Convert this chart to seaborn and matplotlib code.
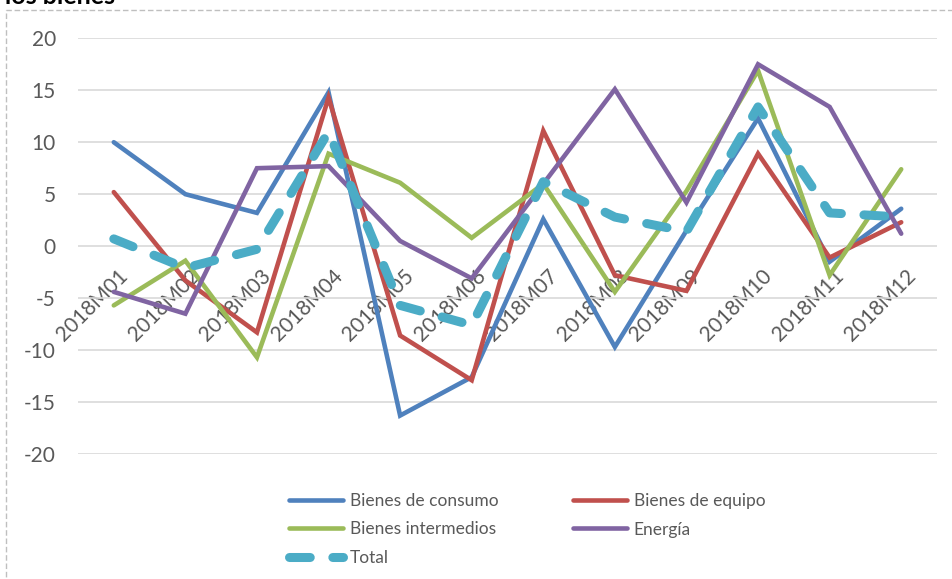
import matplotlib
matplotlib.use("Agg")
import matplotlib.pyplot as plt
import matplotlib.transforms as mtransforms
from matplotlib.patches import Rectangle
import seaborn as sns
import pandas as pd

months = ["2018M01", "2018M02", "2018M03", "2018M04", "2018M05", "2018M06",
          "2018M07", "2018M08", "2018M09", "2018M10", "2018M11", "2018M12"]
consumo = [10.0, 5.0, 3.2, 14.8, -16.3, -12.6, 2.6, -9.7, 1.5, 12.3, -1.5, 3.6]
equipo = [5.2, -3.3, -8.3, 14.3, -8.6, -12.9, 11.1, -2.8, -4.3, 8.9, -1.1, 2.3]
intermedios = [-5.7, -1.4, -10.7, 8.9, 6.1, 0.8, 6.0, -4.4, 5.3, 16.9, -2.8, 7.4]
energia = [-4.4, -6.5, 7.5, 7.7, 0.5, -3.1, 6.0, 15.1, 4.2, 17.5, 13.4, 1.2]
total = [0.7, -2.1, -0.3, 11.0, -5.7, -7.6, 6.2, 2.8, 1.4, 13.4, 3.2, 2.8]

series_names = ["Bienes de consumo", "Bienes de equipo", "Bienes intermedios", "Energía", "Total"]
series_vals = [consumo, equipo, intermedios, energia, total]
colors = ["#4F81BD", "#C0504D", "#9BBB59", "#8064A2", "#4BACC6"]
y_ticks = [-20, -15, -10, -5, 0, 5, 10, 15, 20]

sns.set_theme(style="white")
plt.rcParams["font.family"] = ["Lato", "DejaVu Sans"]

W, H = 952, 579
fig = plt.figure(figsize=(W / 100, H / 100), dpi=100)
ax = fig.add_axes([78 / W, 1 - 454 / H, (937 - 78) / W, (454 - 38.3) / H])

x_idx = list(range(len(months)))
handles = {}
for name, vals, col in zip(series_names, series_vals, colors):
    df = pd.DataFrame({"x": x_idx, "y": vals})
    if name == "Total":
        sns.lineplot(data=df, x="x", y="y", ax=ax, color=col, linewidth=6.5,
                     zorder=5)
        ln = ax.lines[-1]
        ln.set_dashes((2.3, 2.5))
        ln.set_dash_capstyle("round")
        ln.set_solid_capstyle("round")
    else:
        sns.lineplot(data=df, x="x", y="y", ax=ax, color=col, linewidth=3.3,
                     zorder=4)
        ln = ax.lines[-1]
        ln.set_solid_joinstyle("miter")
        ln.set_solid_capstyle("round")
    handles[name] = ln

ax.set_xlim(-0.5, len(months) - 0.5)
ax.set_ylim(-20, 20)
ax.set_yticks(y_ticks)
ax.set_yticklabels([str(v) for v in y_ticks])
ax.yaxis.grid(True, color="#D9D9D9", linewidth=1.2, zorder=0)
ax.xaxis.grid(False)
ax.set_axisbelow(True)
for s in ax.spines.values():
    s.set_visible(False)
ax.spines["bottom"].set_position(("data", 0))
ax.set_xlabel("")
ax.set_ylabel("")

ax.set_xticks(x_idx)
ax.set_xticklabels(months)
ax.tick_params(axis="x", length=0, pad=14, labelsize=15, labelcolor="#595959")
ax.tick_params(axis="y", length=0, pad=16, labelsize=15, labelcolor="#595959")
off = mtransforms.ScaledTranslation(0.04, 0.0, fig.dpi_scale_trans)
for lab in ax.get_xticklabels():
    lab.set_rotation(45)
    lab.set_ha("right")
    lab.set_va("top")
    lab.set_rotation_mode("anchor")
    lab.set_transform(lab.get_transform() + off)

order = ["Bienes de consumo", "Bienes intermedios", "Total", "Bienes de equipo", "Energía"]
leg = fig.legend([handles[n] for n in order], order, loc="upper left",
                 bbox_to_anchor=(289 / W, 1 - 493 / H), ncol=2, frameon=False,
                 fontsize=12.5, handlelength=3.1, handletextpad=0.4,
                 columnspacing=4.3, labelspacing=0.72, borderpad=0,
                 borderaxespad=0)
for t in leg.get_texts():
    t.set_color("#595959")

# chart area border (dashed)
fig.patches.append(Rectangle((6 / W, -0.1), 1.2, 1 - 10 / H + 0.1,
                             transform=fig.transFigure, fill=False,
                             edgecolor="#BFBFBF", linewidth=1.0,
                             linestyle=(0, (4, 2)), zorder=0))

fig.text(5 / W, 1 - 4 / H, "los bienes", fontsize=18, fontweight="bold",
         color="black", ha="left", va="baseline")

fig.savefig("out.png", dpi=100)
